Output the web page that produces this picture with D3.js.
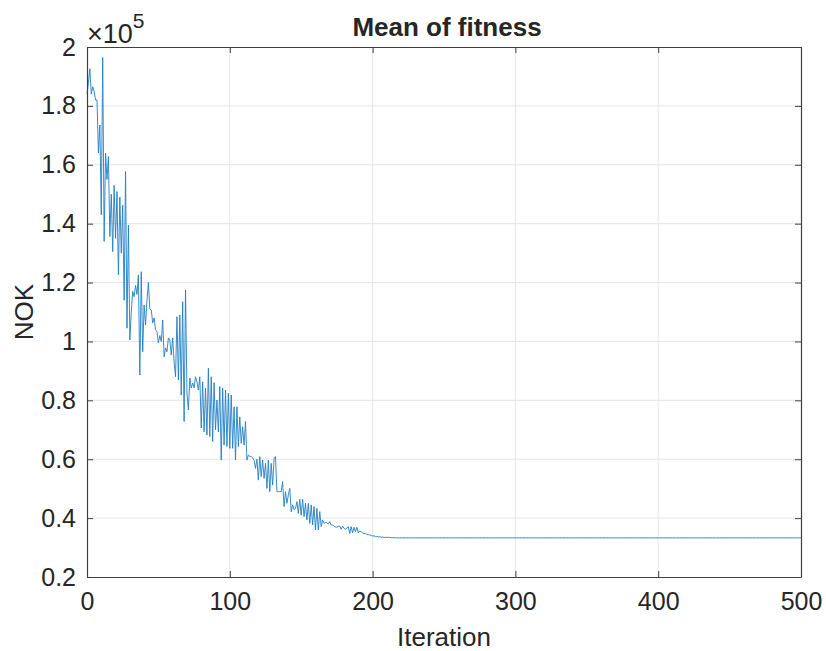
<!DOCTYPE html>
<html>
<head>
<meta charset="utf-8">
<script src="https://cdn.jsdelivr.net/npm/d3@7"></script>
<style>
	body { margin: 0; background: #fff; }
	svg text { font-family: "Liberation Sans", Arial, Helvetica, sans-serif; fill: #262626; }
</style>
</head>
<body>
<div id="chart"></div>
<script>
// mean fitness per iteration, in units of 10^5 NOK
var meanFitness = [
	1.84, 1.88, 1.926, 1.84, 1.865, 1.85, 1.82, 1.82, 1.64, 1.735,
	1.43, 1.964, 1.34, 1.64, 1.55, 1.628, 1.356, 1.50, 1.305, 1.53,
	1.35, 1.509, 1.226, 1.49, 1.30, 1.463, 1.14, 1.577, 1.045, 1.395,
	1.005, 1.10, 1.17, 1.152, 1.19, 1.16, 1.226, 0.886, 1.237, 0.965,
	1.124, 1.056, 1.14, 1.20, 1.11, 1.107, 1.063, 1.08, 1.04, 1.033,
	0.995, 1.02, 1.00, 1.073, 0.948, 0.978, 0.965, 1.012, 1.005, 0.954,
	1.012, 0.93, 0.88, 1.084, 0.869, 1.09, 0.818, 1.135, 0.728, 1.175,
	0.825, 0.767, 0.876, 0.842, 0.859, 0.842, 0.88, 0.863, 0.835, 0.88,
	0.706, 0.863, 0.693, 0.842, 0.682, 0.909, 0.677, 0.88, 0.66, 0.86,
	0.70, 0.801, 0.693, 0.847, 0.597, 0.842, 0.648, 0.835, 0.643, 0.824,
	0.637, 0.818, 0.637, 0.778, 0.597, 0.778, 0.643, 0.744, 0.654, 0.71,
	0.648, 0.728, 0.597, 0.614, 0.61, 0.609, 0.605, 0.597, 0.569, 0.60,
	0.529, 0.609, 0.541, 0.597, 0.535, 0.586, 0.501, 0.597, 0.49, 0.586,
	0.512, 0.603, 0.609, 0.49, 0.49, 0.49, 0.49, 0.524, 0.439, 0.49,
	0.45, 0.479, 0.501, 0.422, 0.445, 0.428, 0.433, 0.456, 0.416, 0.464,
	0.41, 0.464, 0.405, 0.45, 0.394, 0.45, 0.382, 0.445, 0.377, 0.439,
	0.36, 0.433, 0.36, 0.422, 0.371, 0.394, 0.382, 0.385, 0.384, 0.38,
	0.388, 0.377, 0.377, 0.372, 0.37, 0.369, 0.372, 0.373, 0.362, 0.373,
	0.365, 0.362, 0.366, 0.371, 0.348, 0.371, 0.35, 0.369, 0.354, 0.369,
	0.35, 0.356, 0.354, 0.35, 0.348, 0.347, 0.345, 0.344, 0.343, 0.341,
	0.339, 0.34, 0.337, 0.338, 0.336, 0.337, 0.335, 0.336, 0.334, 0.335,
	0.334, 0.335, 0.334, 0.334, 0.333, 0.334, 0.333, 0.333
];
// after convergence the mean stays flat up to the last iteration
var plateauValue = 0.333;
var lastIteration = 500;

var xTicks = [0, 100, 200, 300, 400, 500];
var yTicks = [0.2, 0.4, 0.6, 0.8, 1, 1.2, 1.4, 1.6, 1.8, 2];

var titleText = "Mean of fitness";
var xLabel = "Iteration";
var yLabel = "NOK";

function buildSeries() {
	var points = [];
	var i = 0;
	for (i; i <= lastIteration; i++) {
		var v = i < meanFitness.length ? meanFitness[i] : plateauValue;
		points.push({ x: i, y: v });
	}
	return points;
}

function drawChart(div) {
	var width = 826, height = 651;
	var left = 87, right = 801, top = 47, bottom = 577;

	var svg = d3.select("#" + div).append("svg")
		.attr("width", width).attr("height", height);

	var x = d3.scaleLinear().domain([0, 500]).range([left, right]);
	var y = d3.scaleLinear().domain([0.2, 2]).range([bottom, top]);

	// grid
	var grid = svg.append("g");
	grid.selectAll(".vg").data(xTicks.slice(1, -1)).enter().append("line")
		.attr("x1", function(d) { return x(d); }).attr("x2", function(d) { return x(d); })
		.attr("y1", top).attr("y2", bottom)
		.attr("stroke", "#e6e6e6").attr("stroke-width", 1);
	grid.selectAll(".hg").data(yTicks.slice(1, -1)).enter().append("line")
		.attr("y1", function(d) { return y(d); }).attr("y2", function(d) { return y(d); })
		.attr("x1", left).attr("x2", right)
		.attr("stroke", "#e6e6e6").attr("stroke-width", 1);

	// data line
	var line = d3.line().x(function(d) { return x(d.x); }).y(function(d) { return y(d.y); });
	svg.append("path").datum(buildSeries())
		.attr("d", line).attr("fill", "none")
		.attr("stroke", "#1f7fc4").attr("stroke-width", 0.9)
		.attr("stroke-linejoin", "round");

	// axes, ticks inside like MATLAB
	var fmt = function(d) { return d3.format("~g")(d); };
	var tickLen = 6;
	svg.append("g").attr("transform", "translate(0," + bottom + ")")
		.call(d3.axisBottom(x).tickValues(xTicks).tickSizeInner(-tickLen).tickSizeOuter(0).tickPadding(15).tickFormat(fmt));
	svg.append("g").attr("transform", "translate(" + left + ",0)")
		.call(d3.axisLeft(y).tickValues(yTicks).tickSizeInner(-tickLen).tickSizeOuter(0).tickPadding(11).tickFormat(fmt));
	svg.append("g").attr("transform", "translate(0," + top + ")")
		.call(d3.axisTop(x).tickValues(xTicks).tickSizeInner(-tickLen).tickSizeOuter(0).tickFormat(""));
	svg.append("g").attr("transform", "translate(" + right + ",0)")
		.call(d3.axisRight(y).tickValues(yTicks).tickSizeInner(-tickLen).tickSizeOuter(0).tickFormat(""));

	svg.selectAll(".domain").attr("stroke", "#404040").attr("stroke-width", 1.2);
	svg.selectAll(".tick line").attr("stroke", "#404040");
	svg.selectAll(".tick text").attr("font-size", 25).attr("fill", "#262626")
		.attr("font-family", "Liberation Sans, Arial, sans-serif");

	// exponent label
	var expo = svg.append("text").attr("x", left).attr("y", 43).attr("font-size", 27);
	expo.append("tspan").text("\u00d710");
	expo.append("tspan").attr("dy", -15).attr("font-size", 21).text("5");

	svg.append("text").attr("x", (left + right) / 2 + 3).attr("y", 36)
		.attr("text-anchor", "middle").attr("font-size", 26).attr("font-weight", "bold")
		.text(titleText);
	svg.append("text").attr("x", (left + right) / 2).attr("y", 646)
		.attr("text-anchor", "middle").attr("font-size", 26).text(xLabel);
	svg.append("text").attr("transform", "translate(33," + ((top + bottom) / 2) + ") rotate(-90)")
		.attr("text-anchor", "middle").attr("font-size", 26).text(yLabel);
}

drawChart("chart");
</script>
</body>
</html>
